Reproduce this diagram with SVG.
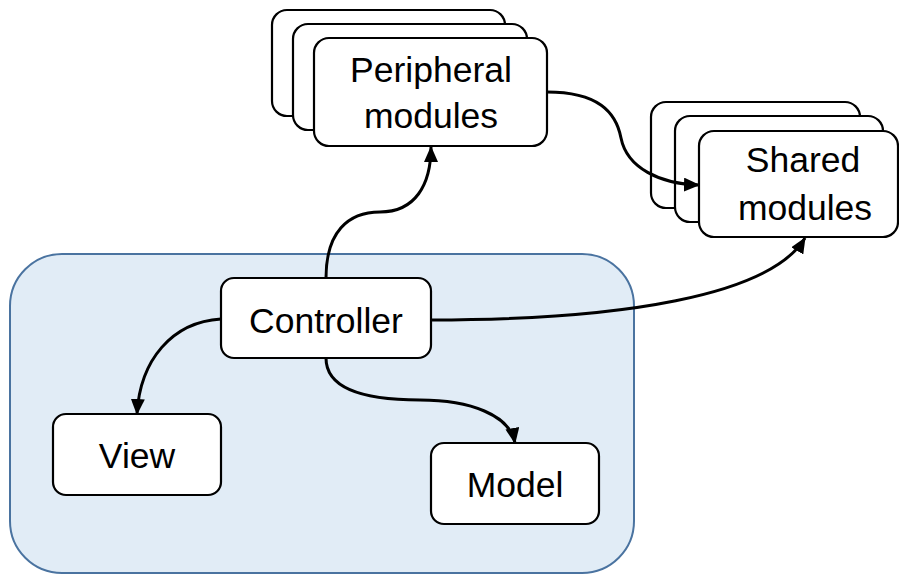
<svg xmlns="http://www.w3.org/2000/svg" width="899" height="576" viewBox="0 0 899 576">
<defs>
<style>
.box{fill:#fff;stroke:#000;stroke-width:2.2}
.lbl{font-family:"Liberation Sans",Arial,sans-serif;font-size:35.5px;fill:#000;text-anchor:middle}
.con{fill:none;stroke:#000;stroke-width:3}
</style>
<marker id="arr" markerUnits="userSpaceOnUse" markerWidth="16" markerHeight="14" refX="15" refY="7" orient="auto" viewBox="0 0 16 14">
<path d="M0,0 L16,7 L0,14 z" fill="#000"/>
</marker>
</defs>
<rect id="container" x="10" y="254" width="624" height="319" rx="52" ry="52" fill="#e1ecf6" stroke="#4a73a0" stroke-width="2"/>
<g id="peripheral">
<rect class="box" x="272" y="10" width="233" height="106" rx="15"/>
<rect class="box" x="293" y="24" width="234" height="106" rx="15"/>
<rect class="box" x="314" y="38" width="233" height="108" rx="15"/>
<text class="lbl" x="431" y="82">Peripheral</text>
<text class="lbl" x="431" y="128">modules</text>
</g>
<g id="shared">
<rect class="box" x="651" y="102" width="209" height="106" rx="15"/>
<rect class="box" x="675" y="116" width="208" height="106" rx="15"/>
<rect class="box" x="699" y="131" width="199" height="106" rx="15"/>
<text class="lbl" x="803" y="172">Shared</text>
<text class="lbl" x="805" y="220">modules</text>
</g>
<g id="controller">
<rect class="box" x="221" y="278" width="210" height="80" rx="13"/>
<text class="lbl" x="326" y="333">Controller</text>
</g>
<g id="view">
<rect class="box" x="53" y="414" width="168" height="81" rx="13"/>
<text class="lbl" x="137" y="468">View</text>
</g>
<g id="model">
<rect class="box" x="431" y="443" width="168" height="81" rx="13"/>
<text class="lbl" x="515" y="497">Model</text>
</g>
<g id="connectors">
<path class="con" marker-end="url(#arr)" d="M326,278 C326,232 348,212 380,212 C415,212 431,185 431,147"/>
<path class="con" marker-end="url(#arr)" d="M547,92 C598,92 616,112 621,138 C627,168 660,184 699,185"/>
<path class="con" marker-end="url(#arr)" d="M431,320 C620,320 770,296 805,238"/>
<path class="con" marker-end="url(#arr)" d="M221,319 C172,322 140,360 137,414"/>
<path class="con" marker-end="url(#arr)" d="M326,358 C326,395 380,400 420,400 C470,400 510,415 515,443"/>
</g>
</svg>
